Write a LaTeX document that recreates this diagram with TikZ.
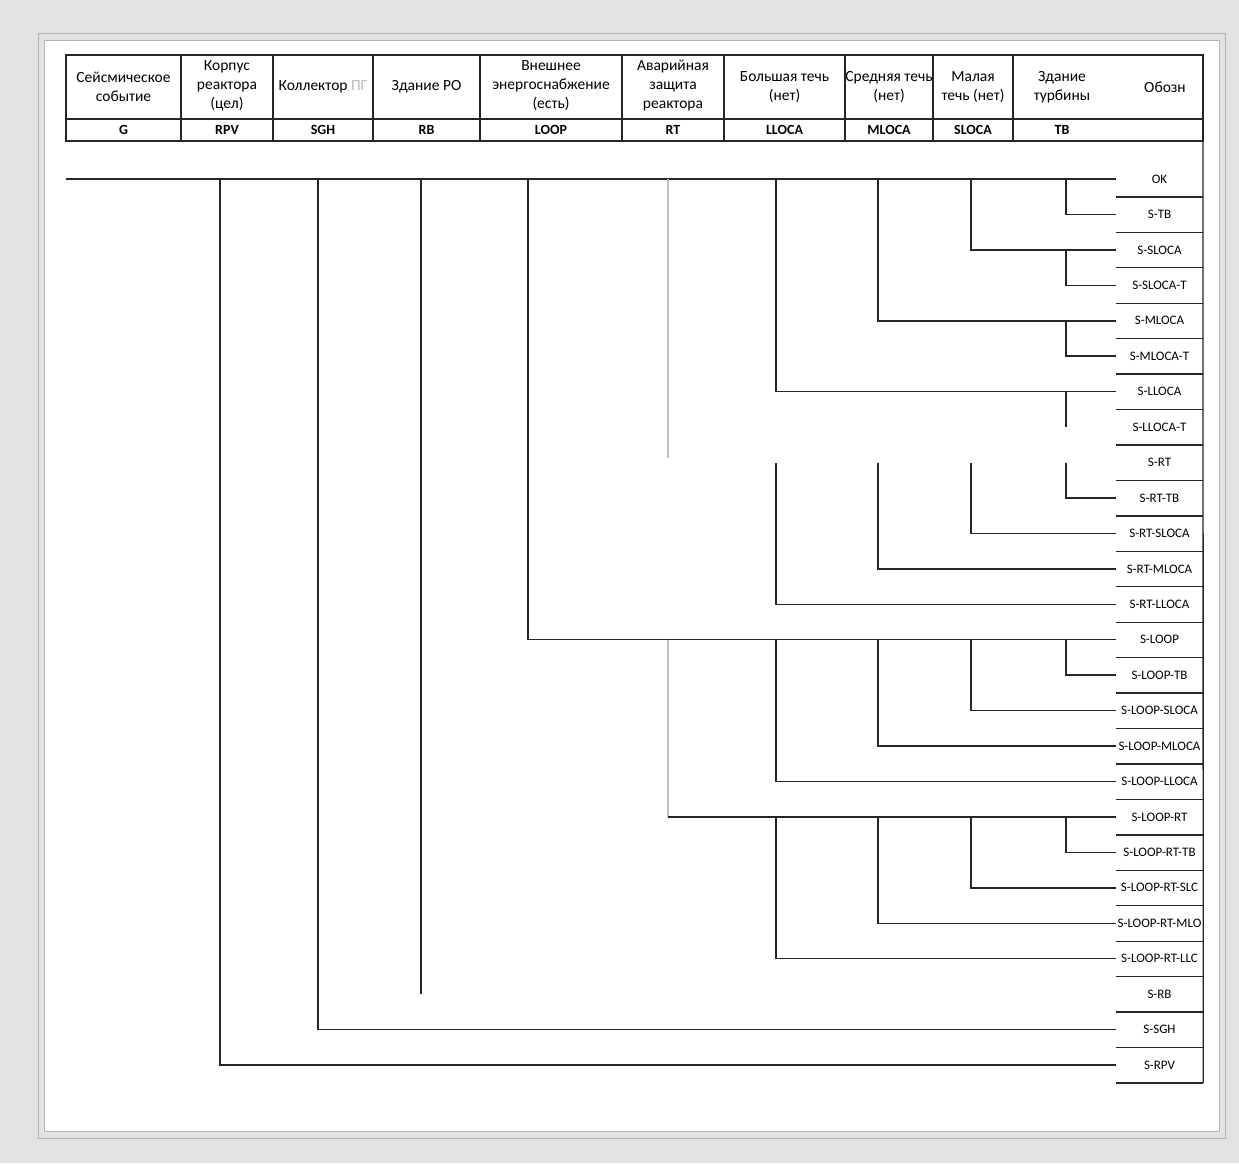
\documentclass[tikz,border=0pt]{standalone}
\usepackage{fontspec}
\setmainfont{Carlito}
\begin{document}
\begin{tikzpicture}[x=1pt,y=-1pt,
  br/.style={line width=1.5pt, black!85},
  gbr/.style={line width=1.5pt, gray!50},
  tbl/.style={line width=1.3pt, black!85},
  frm/.style={line width=0.8pt, gray!60},
  hdr/.style={align=center, font=\fontsize{15.5}{19}\selectfont, inner sep=0pt},
  code/.style={font=\fontsize{14}{16}\selectfont\bfseries, inner sep=0pt},
  es/.style={minimum width=87pt, minimum height=35.44pt, inner sep=0pt, font=\fontsize{13}{15}\selectfont, anchor=center}
]
% page / scan frame
\useasboundingbox (0,0) rectangle (1239,1163);
\fill[gray!22] (0,0) rectangle (1239,1163);
\fill[white] (44,40) rectangle (1219,1131);
\draw[frm] (44,40) rectangle (1219,1131);
\draw[frm] (38,33) rectangle (1225,1138);

% table
\draw[tbl] (66,55) rectangle (1203,141);
\draw[tbl] (66,119) -- (1203,119);
\foreach \x in {181,273,373,480,622,724,845,933,1013}
  \draw[tbl] (\x,55) -- (\x,141);

% header texts
\node[hdr] (h1) at (123.5,87) {Сейсмическое\\событие};
\node[hdr] (h2) at (227,86) {Корпус\\реактора\\(цел)};
\node[hdr] (h3) at (323,87) {Коллектор {\color{gray!55}ПГ}};
\node[hdr] (h4) at (426.5,87) {Здание РО};
\node[hdr] (h5) at (551,86) {Внешнее\\энергоснабжение\\(есть)};
\node[hdr] (h6) at (673,86) {Аварийная\\защита\\реактора};
\node[hdr] (h7) at (784.5,87) {Большая течь\\(нет)};
\node[hdr] (h8) at (889,87) {Средняя течь\\(нет)};
\node[hdr] (h9) at (973,87) {Малая\\течь (нет)};
\node[hdr] (h10) at (1062,87) {Здание\\турбины};
\node[hdr] (h11) at (1165,87) {Обозн};

% codes
\node[code] (c1) at (123.5,130) {G};
\node[code] (c2) at (227,130) {RPV};
\node[code] (c3) at (323,130) {SGH};
\node[code] (c4) at (426.5,130) {RB};
\node[code] (c5) at (551,130) {LOOP};
\node[code] (c6) at (673,130) {RT};
\node[code] (c7) at (784.5,130) {LLOCA};
\node[code] (c8) at (889,130) {MLOCA};
\node[code] (c9) at (973,130) {SLOCA};
\node[code] (c10) at (1062,130) {TB};

% end states
\foreach \t [count=\i from 0] in {OK,S-TB,S-SLOCA,S-SLOCA-T,S-MLOCA,S-MLOCA-T,S-LLOCA,S-LLOCA-T,S-RT,S-RT-TB,S-RT-SLOCA,S-RT-MLOCA,S-RT-LLOCA,S-LOOP,S-LOOP-TB,S-LOOP-SLOCA,S-LOOP-MLOCA,S-LOOP-LLOCA,S-LOOP-RT,S-LOOP-RT-TB,S-LOOP-RT-SLC,S-LOOP-RT-MLO,S-LOOP-RT-LLC,S-RB,S-SGH,S-RPV}
  \node[es] (e\i) at (1159.5,{179+35.44*\i}) {\t};
\foreach \i in {0,...,25}
  \draw[tbl] (e\i.south west) -- (e\i.south east);
\draw[tbl] (1203,141) -- (e25.south east);

% tree: initiating event
\coordinate (g) at (66,179);
\draw[br] (g) -- (e0.west);

% branch points on the main line
\coordinate (rpv) at (220,179);
\coordinate (sgh) at (318,179);
\coordinate (rb) at (421,179);
\coordinate (rbend) at (421,{179+35.44*23});
\coordinate (loop) at (528,179);
\coordinate (rt) at (668,179);
\coordinate (rtend) at (668,{179+35.44*8-5});
\draw[br] (rpv) |- (e25.west);
\draw[br] (sgh) |- (e24.west);
\draw[br] (rb) -- (rbend);
\draw[br] (loop) |- (e13.west);
\draw[gbr] (rt) -- (rtend);

% generic sub-branches: x, from row, to row
\foreach \x/\a/\b in {776/0/6, 878/0/4, 971/0/2, 1066/0/1, 1066/2/3, 1066/4/5,
                      776/8/12, 878/8/11, 971/8/10, 1066/8/9,
                      776/13/17, 878/13/16, 971/13/15, 1066/13/14,
                      776/18/22, 878/18/21, 971/18/20, 1066/18/19}
  \draw[br] (\x,{179+35.44*\a}) |- (e\b.west);

% S-LLOCA turbine branch without end line
\coordinate (tbl6) at (1066,{179+35.44*6});
\coordinate (tbl7) at (1066,{179+35.44*7});
\draw[br] (tbl6) -- (tbl7);

% RT under LOOP
\coordinate (rt2) at (668,{179+35.44*13});
\coordinate (rt2c) at (668,{179+35.44*18});
\draw[gbr] (rt2) -- (rt2c);
\draw[br] (rt2c) -- (e18.west);
\end{tikzpicture}
\end{document}
